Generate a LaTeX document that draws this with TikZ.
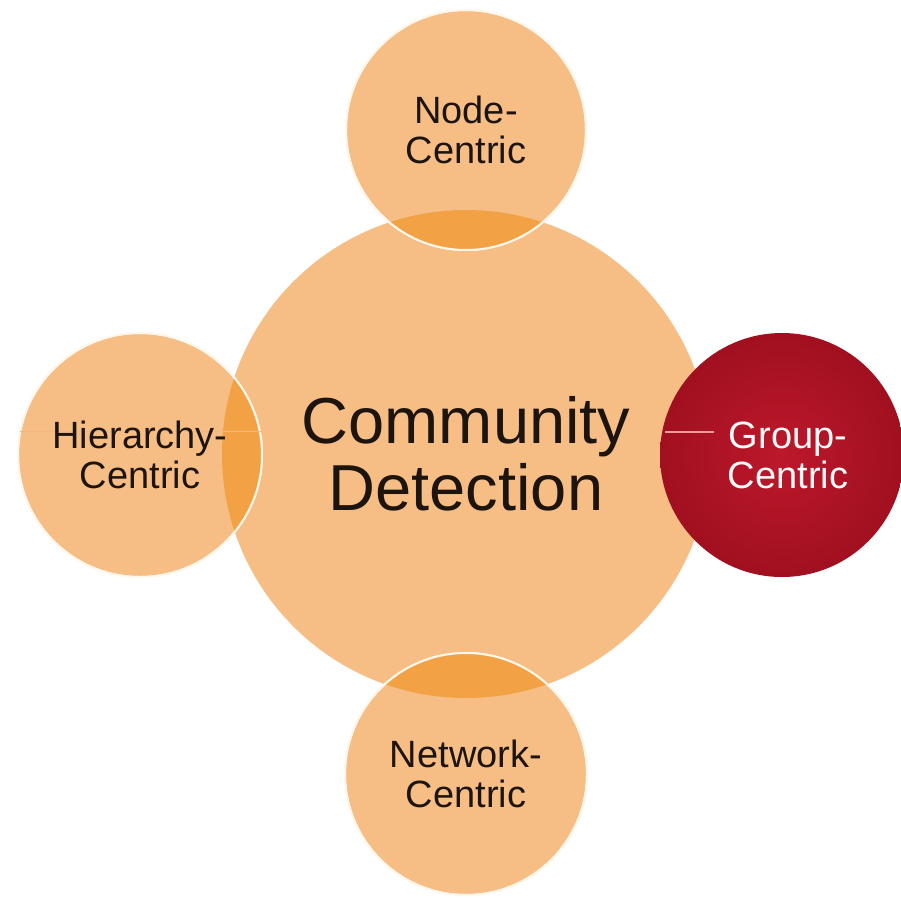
\documentclass[tikz,border=0pt]{standalone}
\usepackage{fontspec}
\setmainfont{Liberation Sans}
\definecolor{orfill}{HTML}{F6BE84}
\definecolor{lenscol}{HTML}{F2A244}
\definecolor{redin}{HTML}{BC182B}
\definecolor{redout}{HTML}{A11020}
\definecolor{rimcol}{HTML}{FFF7EC}
\definecolor{inkcol}{HTML}{1E140E}
\definecolor{pinkline}{HTML}{F59A9A}
\definecolor{ghostline}{HTML}{F4B87A}
\tikzset{
  orb/.style={circle, inner sep=0pt, fill=orfill, text=inkcol, align=center},
  sat/.style={orb, draw=rimcol, line width=2pt},
  smalltext/.style={text=inkcol, align=center, font=\fontsize{38}{40}\selectfont},
  rim/.style={draw=rimcol, line width=2pt},
  redorb/.style={circle, inner sep=0pt, inner color=redin, outer color=redout},
  bigtext/.style={font=\fontsize{65}{67}\selectfont}
}
\begin{document}
\begin{tikzpicture}[x=1pt, y=-1pt]
\useasboundingbox[fill=white] (0,0) rectangle (901,899);
% central circle
\node[orb, minimum size=488pt, bigtext] (cd) at (466,454) {Community\\Detection};
% satellites
\node[sat, minimum size=244pt] (hc) at (140,455) {};
\node[sat, minimum size=240pt] (nc) at (466,130) {};
\node[sat, minimum size=242pt] (wc) at (466,774) {};
% overlap lenses
\begin{scope}
  \clip (cd.center) circle[radius=244pt];
  \fill[lenscol] (nc.center) circle[radius=120pt];
  \fill[lenscol] (hc.center) circle[radius=122pt];
  \fill[lenscol] (wc.center) circle[radius=121pt];
\end{scope}
\draw[rim] (nc.center) circle[radius=120pt];
\draw[rim] (hc.center) circle[radius=122pt];
\draw[rim] (wc.center) circle[radius=121pt];
% faint line in hierarchy circle (behind the text)
\coordinate (h1) at (20,431);
\coordinate (h2) at (262,431);
\draw[ghostline, line width=0.8pt] (h1) -- (h2);
% satellite labels
\node[smalltext] (hct) at (hc.center) {Hierarchy-\\Centric};
\node[smalltext] (nct) at (nc.center) {Node-\\Centric};
\node[smalltext] (wct) at (wc.center) {Network-\\Centric};
% group-centric
\node[redorb, minimum size=244pt] (gc) at (782,455) {};
\node[text=white!92!pink, align=center, font=\fontsize{38}{40}\selectfont] (gct) at (788,455) {Group-\\Centric};
\coordinate (g1) at (665,432);
\coordinate (g2) at (714,432);
\draw[pinkline, line width=1.6pt] (g1) -- (g2);
\end{tikzpicture}
\end{document}
